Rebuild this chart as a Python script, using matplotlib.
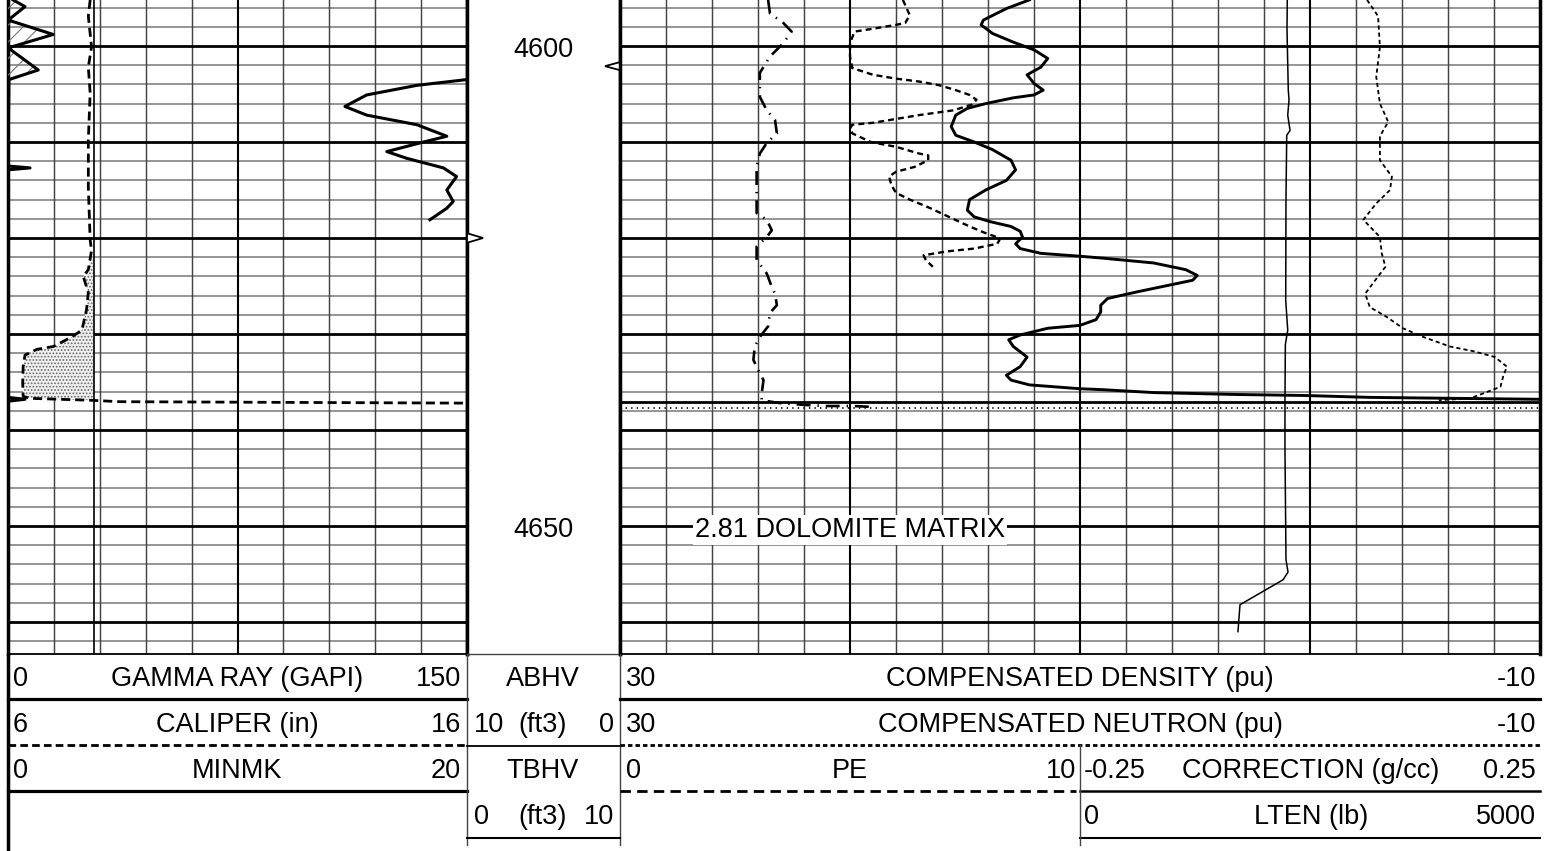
import numpy as np
import matplotlib
matplotlib.use("Agg")
import matplotlib.pyplot as plt

plt.rcParams['font.family'] = ['Liberation Sans', 'DejaVu Sans']
plt.rcParams['lines.scale_dashes'] = False
plt.rcParams['lines.solid_joinstyle'] = 'round'
plt.rcParams['lines.dash_joinstyle'] = 'round'
plt.rcParams['hatch.linewidth'] = 0.8

# depth frame of the log (ft)
top_depth = 4595.21
bot_depth = 4663.33
depth_labels = [4600, 4650]
flag_left = [4620.0]     # open triangle on the left edge of the depth track
flag_right = [4602.1]    # open triangle on the right edge of the depth track
bit_size = 7.875
casing_depth = 4637.1
dotted_depth = 4637.7
matrix_depth = 4650
matrix_label = "2.81 DOLOMITE MATRIX"

# gamma ray (GAPI)
gr_depth = [4603.1, 4603.5, 4604.1, 4605.1, 4606.3, 4607.2, 4608.2, 4609.4, 4610.1,
            4611.0, 4611.7, 4612.7, 4613.6, 4615.0, 4616.2, 4616.9, 4618.1]
gr = [175, 149.9, 133.6, 117.2, 110.1, 117.2, 133.6, 143.4, 134.6,
      123.8, 130.3, 142.3, 146.6, 143.4, 145.5, 143.4, 137.9]

# caliper (in)
cal_depth = [4595.2, 4596.9, 4600.1, 4602.2, 4604.9, 4609.8, 4614.7, 4620.2, 4621.3, 4623.3,
             4624.0, 4625.7, 4627.5, 4629.6, 4630.3, 4631.3, 4631.6, 4632.2, 4633.4, 4635.1,
             4636.5, 4636.7, 4636.9, 4637.05, 4637.2, 4637.25]
cal = [7.79, 7.75, 7.82, 7.75, 7.79, 7.75, 7.75, 7.79, 7.82, 7.75,
       7.64, 7.75, 7.71, 7.61, 7.39, 6.99, 6.63, 6.37, 6.33, 6.32,
       6.33, 6.48, 7.79, 8.44, 15.99, 16.5]

# minmk
mk_depth = [4595.2, 4595.9, 4597.3, 4598.8, 4600.2, 4602.5, 4603.5, 4612.5, 4612.7, 4612.9,
            4636.6, 4636.8, 4637.0]
mk = [0.22, 0.74, 0.01, 1.97, 0.01, 1.32, 0.04, 0.0, 0.96, 0.0, 0.0, 0.74, 0.0]

# compensated density (pu)
den_depth = [4595.2, 4596.1, 4597.3, 4597.8, 4598.7, 4599.6, 4600.4, 4601.3, 4602.2, 4603.0,
             4603.9, 4604.6, 4605.1, 4605.4, 4606.0, 4606.5, 4607.2, 4608.4, 4609.3, 4610.0,
             4610.8, 4611.9, 4612.9, 4614.0, 4615.0, 4616.0, 4617.1, 4617.8, 4618.3, 4618.8,
             4619.3, 4619.9, 4620.6, 4621.1, 4621.6, 4621.9, 4622.1, 4622.6, 4623.3, 4623.9,
             4624.4, 4624.9, 4625.6, 4626.3, 4627.0, 4627.7, 4628.5, 4629.1, 4629.4, 4630.1,
             4630.6, 4631.3, 4632.4, 4633.4, 4634.3, 4634.8, 4635.3, 4635.7, 4635.8, 4636.1,
             4636.3, 4636.4, 4636.6, 4636.7, 4636.8]
den = [12.2, 13.2, 14.2, 14.3, 13.8, 12.9, 12.0, 11.4, 11.7, 12.3,
       12.0, 11.6, 12.0, 12.9, 14.1, 14.9, 15.4, 15.6, 15.4, 14.6,
       13.8, 13.0, 12.8, 13.2, 14.1, 14.8, 14.9, 14.6, 13.9, 13.0,
       12.6, 12.5, 12.8, 12.6, 11.7, 10.0, 9.0, 6.8, 5.4, 4.9,
       5.1, 6.1, 7.5, 8.8, 9.1, 9.1, 9.3, 10.0, 11.4, 12.6,
       13.1, 12.9, 12.3, 12.6, 13.2, 13.0, 12.2, 10.0, 9.0, 6.8,
       3.2, 0.3, -2.6, -6.2, -10.0]

# compensated neutron (pu)
neu_depth = [4595.2, 4596.8, 4597.6, 4597.8, 4598.2, 4598.5, 4599.7, 4601.1, 4602.3, 4603.0,
             4603.4, 4603.7, 4604.1, 4604.6, 4605.1, 4605.6, 4606.1, 4606.7, 4607.2, 4607.6,
             4608.0, 4608.2, 4608.6, 4609.1, 4610.0, 4610.5, 4611.2, 4611.4, 4611.9, 4612.6,
             4613.1, 4613.6, 4614.5, 4615.3, 4616.0, 4616.9, 4617.8, 4618.8, 4619.5, 4620.0,
             4620.2, 4620.6, 4621.1, 4621.4, 4621.8, 4622.3, 4623.0]
neu = [17.7, 17.4, 17.6, 18.0, 19.0, 19.8, 20.0, 20.0, 19.9, 19.0,
       18.0, 17.0, 16.1, 15.4, 14.8, 14.5, 14.7, 15.5, 17.0, 18.0,
       19.0, 19.9, 20.0, 19.9, 19.1, 18.0, 17.0, 16.6, 16.6, 17.2,
       18.0, 18.3, 18.2, 18.0, 17.4, 16.5, 15.7, 14.8, 14.1, 13.5,
       13.5, 13.6, 14.6, 15.8, 16.8, 16.7, 16.4]

# PE
pe_depth = [4595.2, 4596.6, 4597.6, 4598.5, 4599.7, 4601.1, 4602.8, 4605.3, 4606.7, 4607.7,
            4609.1, 4610.1, 4611.2, 4612.6, 4616.0, 4617.4, 4618.1, 4619.2, 4619.9, 4620.9,
            4622.3, 4623.7, 4625.1, 4625.8, 4627.0, 4627.8, 4629.2, 4630.3, 4631.3, 4632.7,
            4634.1, 4634.8, 4636.2, 4636.9, 4637.2, 4637.4, 4637.5, 4637.5, 4637.6]
pe = [3.22, 3.26, 3.55, 3.73, 3.55, 3.26, 3.04, 3.04, 3.19, 3.37,
      3.41, 3.19, 3.04, 2.97, 2.97, 2.97, 3.19, 3.30, 3.19, 2.97,
      2.97, 3.19, 3.30, 3.37, 3.41, 3.26, 3.22, 3.04, 2.93, 2.90,
      3.04, 3.12, 3.08, 3.08, 3.48, 4.06, 4.49, 5.07, 5.51]

# density correction (g/cc)
cor_depth = [4595.2, 4596.9, 4600.1, 4603.2, 4606.0, 4607.9, 4609.4, 4611.9, 4613.6, 4615.0,
             4616.4, 4618.1, 4619.9, 4621.6, 4623.0, 4624.0, 4625.8, 4627.2, 4628.2, 4629.4,
             4630.3, 4631.3, 4631.8, 4632.4, 4633.4, 4634.4, 4635.5, 4636.2, 4636.7, 4636.9]
cor = [0.062, 0.074, 0.076, 0.072, 0.076, 0.085, 0.076, 0.076, 0.089, 0.087,
       0.072, 0.058, 0.076, 0.078, 0.082, 0.074, 0.060, 0.065, 0.083, 0.101,
       0.123, 0.152, 0.178, 0.201, 0.214, 0.210, 0.207, 0.188, 0.174, 0.14]

# line tension (lb)
lten_depth = [4595.2, 4598.3, 4604.6, 4605.6, 4607.2, 4608.8, 4609.3, 4616.0, 4626.5, 4629.6,
              4631.1, 4636.9, 4642.1, 4653.5, 4654.8, 4655.6, 4658.2, 4661.0]
lten = [2253, 2250, 2264, 2272, 2258, 2283, 2247, 2239, 2236, 2258,
        2232, 2228, 2228, 2239, 2261, 2207, 1739, 1717]

# header labels
left_header = [("0", "GAMMA RAY (GAPI)", "150"),
               ("6", "CALIPER (in)", "16"),
               ("0", "MINMK", "20")]
depth_header = [("", "ABHV", ""), ("10", "(ft3)", "0"),
                ("", "TBHV", ""), ("0", "(ft3)", "10")]
right_header = [("30", "COMPENSATED DENSITY (pu)", "-10"),
                ("30", "COMPENSATED NEUTRON (pu)", "-10")]
pe_header = ("0", "PE", "10")
aux_header = [("-0.25", "CORRECTION (g/cc)", "0.25"),
              ("0", "LTEN (lb)", "5000")]

W, H = 1554, 851
GB = 654  # bottom of the grid, px
FS = 19.5


def rect(x0, x1, y0, y1):
    return [x0 / W, 1 - y1 / H, (x1 - x0) / W, (y1 - y0) / H]


fig = plt.figure(figsize=(W / 100, H / 100), dpi=100)


def grid_track(x0, x1, ndiv):
    ax = fig.add_axes(rect(x0, x1, 0, GB))
    ax.set_xlim(0, ndiv)
    ax.set_ylim(bot_depth, top_depth)
    for d in range(4596, 4664, 2):
        if d % 10 == 0:
            ax.axhline(d, color='black', lw=2.0, zorder=1.3)
        else:
            ax.axhline(d, color='#8c8c8c', lw=1.3, zorder=1.0)
    for i in range(1, ndiv):
        if i % 5 == 0:
            ax.axvline(i, color='black', lw=1.5, zorder=1.2)
        else:
            ax.axvline(i, color='#444444', lw=1.05, zorder=1.1)
    ax.set_xticks([])
    ax.set_yticks([])
    ax.spines['left'].set_linewidth(2.5)
    ax.spines['right'].set_linewidth(2.5)
    ax.spines['top'].set_visible(False)
    ax.spines['bottom'].set_linewidth(1.3)
    return ax


def curve_axes(x0, x1, lo, hi):
    ax = fig.add_axes(rect(x0, x1, 0, GB))
    ax.set_xlim(lo, hi)
    ax.set_ylim(bot_depth, top_depth)
    ax.set_axis_off()
    return ax


# ---- left track ----
grid_track(8, 467, 10)

ax_cal = curve_axes(8, 467, 6, 16)
ax_cal.axvline(bit_size, color='black', lw=1.2, zorder=3)
cd = np.array(cal_depth)
cv = np.array(cal)
ax_cal.fill_betweenx(cd, cv, bit_size, where=(cv < bit_size) & (cd > 4621.5),
                     interpolate=True, facecolor='#f0f0f0', edgecolor='#666666',
                     hatch='.....', linewidth=0, zorder=2)
ax_cal.plot(cal, cal_depth, color='black', lw=2.0, ls=(0, (6.5, 3.6)), zorder=4)

ax_mk = curve_axes(8, 467, 0, 20)
ax_mk.fill_betweenx(mk_depth, 0, mk, facecolor='none', edgecolor='#777777',
                    hatch='//', linewidth=0, zorder=2)
ax_mk.plot(mk, mk_depth, color='black', lw=2.2, zorder=4)

ax_gr = curve_axes(8, 467, 0, 150)
ax_gr.plot(gr, gr_depth, color='black', lw=2.2, zorder=4)

# ---- depth track ----
axd = fig.add_axes(rect(467, 620, 0, GB))
axd.set_xlim(0, 1)
axd.set_ylim(bot_depth, top_depth)
axd.set_xticks([])
axd.set_yticks([])
axd.spines['left'].set_linewidth(2.5)
axd.spines['right'].set_linewidth(2.5)
axd.spines['top'].set_visible(False)
axd.spines['bottom'].set_linewidth(1.0)
axd.spines['bottom'].set_color('#444444')
for d in depth_labels:
    axd.text(0.5, d + 1.15, str(d), ha='center', va='baseline', fontsize=FS)
for d in flag_right:
    axd.fill([1.0, 0.902, 1.0], [d - 0.42, d, d + 0.42], facecolor='white',
             edgecolor='black', lw=1.3, zorder=3)
for d in flag_left:
    axd.fill([0.0, 0.105, 0.0], [d - 0.5, d, d + 0.5], facecolor='white',
             edgecolor='black', lw=1.3, zorder=3)

# ---- right track ----
grid_track(620, 1540, 20)

ax_den = curve_axes(620, 1540, 30, -10)
ax_den.axhline(casing_depth, color='black', lw=2.0, zorder=3)
ax_den.axhline(dotted_depth, color='black', lw=1.2, ls=(0, (1.0, 3.0)), zorder=3)
ax_den.plot(neu, neu_depth, color='black', lw=1.7, ls=(0, (4.3, 2.9)), zorder=4)
ax_den.plot(den, den_depth, color='black', lw=2.1, zorder=4)
ax_den.text(20, matrix_depth + 1.15, matrix_label, ha='center', va='baseline', fontsize=FS,
            zorder=6, bbox=dict(boxstyle='square,pad=0.08', facecolor='white', edgecolor='none'))

ax_pe = curve_axes(620, 1080, 0, 10)
ax_pe.plot(pe, pe_depth, color='black', lw=1.9, ls=(0, (10, 5, 1, 5)), zorder=4)

ax_cor = curve_axes(1080, 1540, -0.25, 0.25)
ax_cor.plot(cor, cor_depth, color='black', lw=1.3, ls=(0, (3, 2.2)), zorder=4)

ax_lten = curve_axes(1080, 1540, 0, 5000)
ax_lten.plot(lten, lten_depth, color='black', lw=1.1, zorder=4)

# ---- header ----
hdr = fig.add_axes(rect(0, W, GB, H))
hdr.set_xlim(0, W)
hdr.set_ylim(H, GB)
hdr.set_axis_off()


def header_row(x0, x1, row, labels, center=None, lpad=5, rpad=5):
    base = 686 + 46 * row
    lt, name, rt = labels
    if center is None:
        center = (x0 + x1) / 2
    hdr.text(x0 + lpad, base, lt, ha='left', va='baseline', fontsize=FS)
    hdr.text(center, base, name, ha='center', va='baseline', fontsize=FS)
    hdr.text(x1 - rpad, base, rt, ha='right', va='baseline', fontsize=FS)


for r, lab in enumerate(left_header):
    header_row(8, 467, r, lab, lpad=5, rpad=6)
for r, lab in enumerate(depth_header):
    header_row(467, 620, r, lab, center=543, lpad=7, rpad=6)
for r, lab in enumerate(right_header):
    header_row(620, 1540, r, lab, lpad=6, rpad=4)
header_row(620, 1080, 2, pe_header, lpad=6, rpad=4)
for r, lab in enumerate(aux_header):
    header_row(1080, 1540, r + 2, lab, center=1311, lpad=4, rpad=4)

# left track header lines
hdr.plot([8, 467], [699, 699], color='black', lw=2.3)
hdr.plot([8, 467], [745.5, 745.5], color='black', lw=2.0, ls=(0, (5.5, 3)))
hdr.plot([8, 467], [791.5, 791.5], color='black', lw=2.3)
hdr.plot([8, 8], [GB, H], color='black', lw=2.5)
# depth track header lines
hdr.plot([467, 467], [GB, 845], color='#444444', lw=1.0)
hdr.plot([620, 620], [GB, 845], color='#444444', lw=1.0)
hdr.plot([467, 620], [746.5, 746.5], color='black', lw=1.3)
hdr.plot([467, 620], [838, 838], color='black', lw=1.5)
# right track header lines
hdr.plot([620, 1540], [699, 699], color='black', lw=2.3)
hdr.plot([620, 1540], [745.5, 745.5], color='black', lw=2.0, ls=(0, (3.2, 2.2)))
hdr.plot([620, 1076], [791.5, 791.5], color='black', lw=2.0, ls=(0, (7.5, 4.5)))
hdr.plot([1080, 1540], [791.5, 791.5], color='black', lw=1.8)
hdr.plot([1080, 1540], [838, 838], color='black', lw=1.5)
hdr.plot([1080, 1080], [745.5, 845], color='#444444', lw=1.0)

fig.savefig('out.png', dpi=100)
